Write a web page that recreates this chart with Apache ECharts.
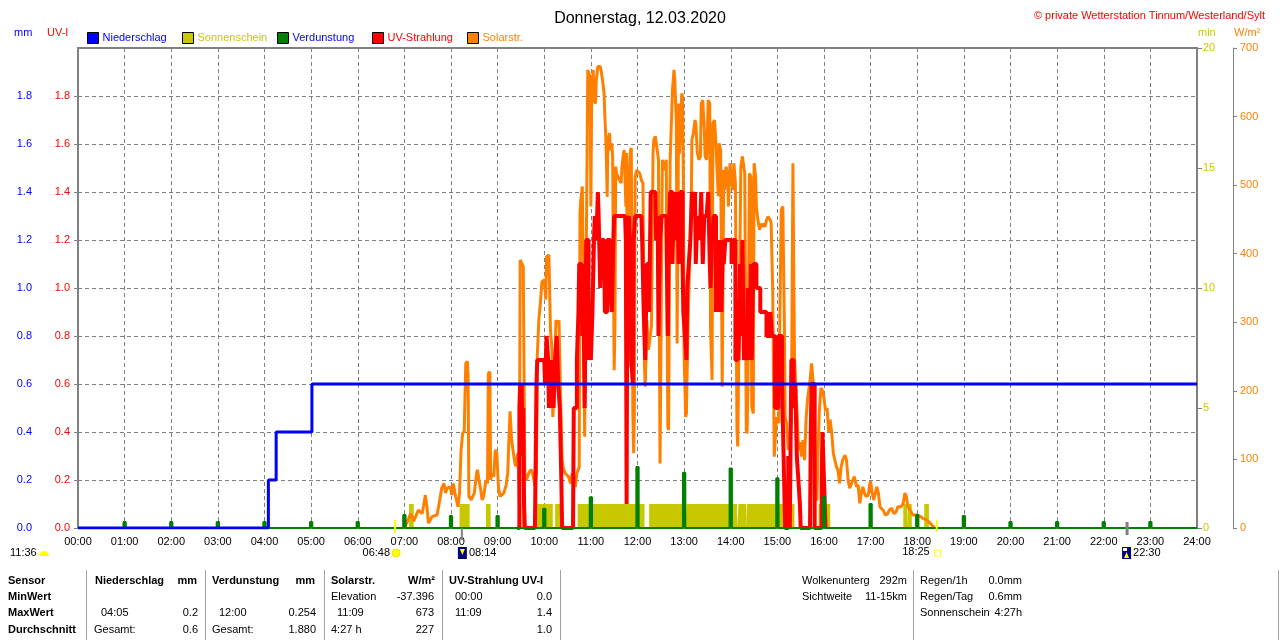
<!DOCTYPE html>
<html lang="de">
<head>
<meta charset="utf-8">
<title>Donnerstag, 12.03.2020</title>
<script src="https://cdn.jsdelivr.net/npm/echarts@6/dist/echarts.min.js"></script>
<style>
  html, body { margin: 0; padding: 0; background: #fff; }
  #chart { width: 1280px; height: 641px; }
</style>
</head>
<body>
<div id="chart"></div>
<script>
  var FONT = '"Liberation Sans", Arial, sans-serif';

  // x-Achse: Minuten seit Mitternacht
  var hourLabels = ['00:00','01:00','02:00','03:00','04:00','05:00','06:00','07:00','08:00','09:00',
    '10:00','11:00','12:00','13:00','14:00','15:00','16:00','17:00','18:00','19:00','20:00',
    '21:00','22:00','23:00','24:00'];

  // Niederschlag kumuliert [Minute, mm]
  var rainSteps = [[0, 0], [245, 0.2], [255, 0.4], [301, 0.6], [1440, 0.6]];

  // Verdunstung je Stunde (mm)
  var evapHours  = [1, 2, 3, 4, 5, 6, 7, 8, 9, 10, 11, 12, 13, 14, 15, 16, 17, 18, 19, 20, 21, 22, 23];
  var evapValues = [0.025, 0.025, 0.025, 0.025, 0.025, 0.025, 0.054, 0.05, 0.05, 0.08, 0.128, 0.254,
    0.23, 0.248, 0.207, 0.13, 0.10, 0.054, 0.05, 0.025, 0.025, 0.025, 0.025];

  // Sonnenschein-Zeitraeume (1 min pro Minute)
  var sunPeriods = [['07:06','07:12'], ['08:11','08:24'], ['08:45','08:51'], ['09:31','09:36'],
    ['09:50','10:11'], ['10:14','10:22'], ['10:43','12:09'], ['12:15','13:02'], ['13:03','14:08'],
    ['14:10','14:20'], ['14:21','15:22'], ['15:53','16:08'], ['17:42','17:47'], ['17:48','17:53'],
    ['18:09','18:15']];

  // Solarstrahlung [Minute, W/m2]
  var solar = [[420,0],[423,7],[428,21],[432,10],[438,26],[443,21],[447,48],[449,31],[451,7],[453,7],
    [456,17],[462,19],[464,31],[468,58],[471,65],[473,51],[475,58],[479,60],[481,48],[483,65],[486,46],
    [489,31],[491,51],[493,114],[495,138],[497,141],[499,240],[501,243],[502,223],[503,46],[506,41],
    [508,46],[510,51],[513,80],[514,85],[516,70],[518,58],[520,41],[522,46],[525,70],[527,65],[528,225],
    [530,228],[531,70],[533,80],[535,75],[537,114],[539,109],[541,60],[543,46],[548,51],[551,63],[553,80],
    [555,143],[556,170],[558,128],[561,104],[563,90],[566,109],[567,80],[568,41],[569,391],[571,386],
    [573,381],[575,80],[577,70],[580,80],[583,85],[585,80],[588,61],[590,80],[591,250],[593,303],[595,328],
    [597,359],[600,362],[602,333],[603,396],[606,398],[608,289],[610,260],[611,162],[613,202],[615,303],
    [618,298],[619,303],[621,191],[623,99],[625,85],[627,80],[631,75],[634,65],[636,80],[638,75],[640,60],
    [642,80],[645,89],[646,459],[647,478],[649,498],[651,496],[652,133],[654,133],[655,527],[656,668],
    [657,668],[659,658],[660,469],[661,624],[663,668],[664,624],[666,619],[667,653],[669,673],[672,673],
    [673,668],[675,653],[677,634],[678,600],[679,576],[680,537],[681,483],[682,566],[684,576],[685,551],
    [687,561],[688,541],[690,230],[691,298],[692,527],[693,517],[695,512],[697,507],[699,503],[700,527],
    [702,547],[703,551],[705,469],[706,547],[707,274],[708,235],[710,527],[711,551],[712,554],[714,167],
    [715,109],[716,167],[717,512],[719,522],[720,522],[723,517],[725,507],[727,503],[729,235],[730,206],
    [732,303],[734,260],[736,260],[738,294],[740,547],[741,566],[743,571],[745,571],[747,537],[749,94],
    [750,94],[752,537],[754,537],[755,522],[757,537],[759,148],[760,143],[762,537],[763,571],[765,639],
    [767,668],[768,653],[770,590],[771,269],[773,619],[774,546],[777,634],[778,629],[779,512],[780,250],
    [782,162],[783,167],[785,298],[787,386],[789,444],[790,566],[792,576],[794,595],[795,590],[797,547],
    [799,537],[801,542],[802,619],[804,624],[806,580],[807,542],[809,537],[811,624],[813,619],[814,289],
    [816,216],[817,590],[819,595],[820,580],[822,532],[824,484],[825,561],[827,551],[829,206],[831,522],
    [832,493],[834,527],[836,512],[837,469],[839,532],[841,508],[843,493],[844,532],[846,503],[848,143],
    [849,119],[851,119],[853,527],[855,542],[856,542],[858,517],[860,143],[861,138],[862,201],[864,517],
    [866,512],[867,177],[869,167],[870,532],[872,512],[873,469],[875,449],[877,435],[879,444],[880,439],
    [882,444],[884,439],[886,449],[888,454],[891,449],[892,444],[894,347],[896,104],[897,104],[899,162],
    [902,153],[903,289],[905,464],[907,469],[909,299],[910,162],[912,153],[914,114],[916,124],[918,153],
    [920,532],[921,532],[922,250],[924,201],[926,153],[927,114],[929,125],[931,104],[933,128],[935,99],
    [937,160],[939,190],[942,214],[944,240],[945,238],[947,200],[949,50],[951,40],[952,100],[954,170],
    [956,204],[958,200],[960,190],[962,170],[964,175],[966,140],[968,158],[970,138],[972,109],[974,99],
    [976,89],[978,84],[980,65],[982,89],[984,99],[987,106],[989,99],[991,70],[993,58],[995,60],[997,70],
    [999,75],[1002,60],[1004,63],[1006,36],[1008,51],[1010,60],[1012,51],[1014,46],[1017,48],[1019,65],
    [1020,68],[1022,51],[1024,41],[1026,51],[1028,60],[1030,51],[1032,31],[1036,26],[1039,19],[1042,21],
    [1044,26],[1047,29],[1050,21],[1053,24],[1055,31],[1059,31],[1062,36],[1064,51],[1066,46],[1068,31],
    [1070,33],[1072,24],[1074,19],[1079,19],[1081,19],[1084,17],[1087,14],[1092,12],[1096,8],[1099,4],
    [1103,0]];

  // UV-Index [Minute, UV-I]
  var uvIndex = [[565,0],[567,0],[568,0.5],[569,0.6],[570,0.3],[571,0.6],[572,0.3],[573,0.5],[574,0.1],
    [575,0],[588,0],[589,0.3],[590,0.6],[591,0.7],[600,0.7],[601,0.6],[602,0.7],[603,0.8],[605,0.7],
    [606,0.5],[607,0.6],[609,0.5],[610,0.7],[612,0.5],[614,0.7],[616,0.8],[618,0.6],[620,0.5],[622,0.2],
    [623,0],[637,0],[638,0.5],[640,0.5],[642,0.7],[644,0.9],[645,1.1],[648,1.1],[649,0.8],[650,1.1],
    [652,0.5],[654,1.2],[656,1.2],[657,0.7],[658,0.8],[660,0.7],[662,0.9],[664,1.2],[665,1.3],[667,1.2],
    [669,1.4],[670,1.3],[672,1.0],[674,1.2],[677,1.2],[678,0.9],[680,0.9],[681,1.2],[683,1.2],[685,1.0],
    [687,0.9],[689,1.2],[690,1.3],[704,1.3],[705,1.2],[706,0.1],[707,1.2],[709,1.3],[711,1.1],[712,0.7],
    [714,0.6],[715,1.2],[717,1.3],[725,1.3],[726,1.2],[728,0.9],[730,0.7],[732,1.1],[735,0.9],[737,1.4],
    [743,1.4],[744,1.2],[746,1.3],[747,0.8],[749,1.2],[751,1.3],[757,1.3],[759,0.8],[760,1.2],[762,1.4],
    [765,1.1],[767,1.4],[769,1.2],[771,1.4],[773,1.1],[775,1.4],[777,1.4],[778,1.1],[779,0.9],[781,0.8],
    [783,0.7],[784,1.0],[786,1.1],[788,1.2],[790,1.4],[792,1.3],[794,1.4],[795,1.1],[797,1.3],[799,1.2],
    [801,1.3],[802,1.4],[804,1.1],[806,1.3],[809,1.3],[811,1.4],[813,1.1],[814,1.0],[816,1.2],[818,1.3],
    [819,1.3],[821,0.9],[823,1.1],[825,0.9],[826,1.2],[828,0.9],[830,1.2],[831,1.1],[833,1.2],[837,1.2],
    [839,1.2],[841,1.1],[843,1.2],[846,0.7],[849,0.8],[850,0.7],[852,1.1],[854,0.8],[855,1.2],[857,0.7],
    [859,0.8],[861,0.7],[862,1.0],[864,0.7],[866,1.1],[867,0.7],[869,1.1],[871,1.1],[873,1.0],[878,0.9],
    [886,0.8],[888,0.8],[891,0.9],[893,0.8],[895,0.8],[897,0.5],[899,0.5],[901,0.8],[903,0.8],[906,0.6],
    [908,0.3],[910,0],[912,0],[914,0.3],[916,0],[918,0.7],[920,0.7],[921,0.5],[923,0.6],[925,0.3],
    [927,0.2],[929,0.1],[930,0],[942,0],[943,0.4],[944,0.6],[946,0.6],[948,0],[957,0.2],[958,0.4],
    [960,0.2],[962,0]];

  // Sonne / Mond
  var sunrise = '06:48', sunset = '18:25', moonrise = '08:14', moonset = '22:30', moonTime = '11:36';

  function toMin(s) { var p = s.split(':'); return (+p[0]) * 60 + (+p[1]); }

  var sunData = [];
  sunPeriods.forEach(function (p) {
    var a = toMin(p[0]), b = toMin(p[1]);
    sunData.push([a, 0], [a, 1], [b, 1], [b, 0]);
  });

  var evapData = [[0, 0]];
  evapHours.forEach(function (h, i) {
    var t = h * 60;
    evapData.push([t - 1.5, 0], [t - 1.5, evapValues[i]], [t + 1.5, evapValues[i]], [t + 1.5, 0]);
  });
  evapData.push([1440, 0]);

  var legendItems = [
    {name: 'Niederschlag', x: 87,  color: '#0000ff'},
    {name: 'Sonnenschein', x: 182, color: '#c8c800'},
    {name: 'Verdunstung',  x: 277, color: '#0000ff'},
    {name: 'UV-Strahlung', x: 372, color: '#ff0000'},
    {name: 'Solarstr.',    x: 467, color: '#ff8000'}
  ];

  var chart = echarts.init(document.getElementById('chart'), null, {renderer: 'canvas'});

  var option = {
    animation: false,
    backgroundColor: '#fff',
    textStyle: {fontFamily: FONT},
    title: [
      {text: 'Donnerstag, 12.03.2020', left: 'center', top: 6,
        textStyle: {fontSize: 16, fontWeight: 'normal', color: '#000', fontFamily: FONT}},
      {text: '\u00a9 private Wetterstation Tinnum/Westerland/Sylt', right: 10, top: 5,
        textStyle: {fontSize: 11, fontWeight: 'normal', color: '#ff0000', fontFamily: FONT}}
    ],
    legend: legendItems.map(function (it) {
      return {
        data: [it.name], left: it.x, top: 32, padding: 0, itemWidth: 11, itemHeight: 11,
        icon: 'rect', selectedMode: false,
        itemStyle: {borderColor: '#000', borderWidth: 1},
        textStyle: {color: it.color, fontSize: 11, fontFamily: FONT, padding: [0, 0, 0, -1]}
      };
    }),
    grid: {left: 78, right: 83, top: 48, bottom: 113, show: true, borderColor: '#808080', borderWidth: 2},
    xAxis: {
      type: 'value', min: 0, max: 1440, interval: 60,
      axisLine: {show: false}, axisTick: {show: false},
      axisLabel: {color: '#000', fontSize: 11, margin: 8, fontFamily: FONT,
        formatter: function (v) { return hourLabels[Math.round(v / 60)]; }},
      splitLine: {show: true, lineStyle: {color: '#808080', type: [4, 3], width: 1}}
    },
    yAxis: [
      { // mm
        type: 'value', position: 'left', offset: 37, min: 0, max: 2, interval: 0.2,
        axisLine: {show: true, lineStyle: {color: '#808080'}},
        axisTick: {show: true, length: 4, lineStyle: {color: '#808080'}},
        axisLabel: {color: '#0000ff', fontSize: 11, margin: 9, showMaxLabel: false, fontFamily: FONT,
          formatter: function (v) { return v.toFixed(1); }},
        splitLine: {show: false}
      },
      { // UV-I
        type: 'value', position: 'left', min: 0, max: 2, interval: 0.2,
        axisLine: {show: true, lineStyle: {color: '#808080', width: 2}},
        axisTick: {show: true, length: 4, lineStyle: {color: '#808080'}},
        axisLabel: {color: '#ff0000', fontSize: 11, margin: 8, showMaxLabel: false, fontFamily: FONT,
          formatter: function (v) { return v.toFixed(1); }},
        splitLine: {show: true, lineStyle: {color: '#808080', type: [4, 3], width: 1}}
      },
      { // min
        type: 'value', position: 'right', min: 0, max: 20, interval: 5,
        axisLine: {show: true, lineStyle: {color: '#808080', width: 2}},
        axisTick: {show: true, length: 5, lineStyle: {color: '#808080'}},
        axisLabel: {color: '#c8c800', fontSize: 11, margin: 6, fontFamily: FONT},
        splitLine: {show: false}
      },
      { // W/m2
        type: 'value', position: 'right', offset: 36, min: 0, max: 700, interval: 100,
        axisLine: {show: true, lineStyle: {color: '#808080'}},
        axisTick: {show: true, length: 4, lineStyle: {color: '#808080'}},
        axisLabel: {color: '#ff8000', fontSize: 11, margin: 7, fontFamily: FONT},
        splitLine: {show: false}
      }
    ],
    series: [
      {name: 'Sonnenschein', type: 'line', yAxisIndex: 2, data: sunData, symbol: 'none', z: 1,
        color: '#c8c800', lineStyle: {width: 0}, areaStyle: {color: '#c8c800', opacity: 1}},
      {name: 'Solarstr.', type: 'line', yAxisIndex: 3, data: solar, symbol: 'none', z: 2,
        color: '#ff8000', lineStyle: {width: 3, color: '#ff8000'}},
      {name: 'UV-Strahlung', type: 'line', yAxisIndex: 1, data: uvIndex, symbol: 'none', step: 'end', z: 3,
        color: '#ff0000', lineStyle: {width: 4, color: '#ff0000'}},
      {name: 'Verdunstung', type: 'line', yAxisIndex: 0, data: evapData, symbol: 'none', z: 4,
        color: '#008000', lineStyle: {width: 2, color: '#008000'}, areaStyle: {color: '#008000', opacity: 1}},
      {name: 'Niederschlag', type: 'line', yAxisIndex: 0, data: rainSteps, symbol: 'none', step: 'end', z: 5,
        color: '#0000ff', lineStyle: {width: 3, color: '#0000ff'}}
    ]
  };

  chart.setOption(option);

  // Beschriftungen ausserhalb des Diagramms
  function px(t) { return chart.convertToPixel({xAxisIndex: 0}, toMin(t)); }
  var base = chart.convertToPixel({yAxisIndex: 1}, 0);
  function txt(s, x, y, color, align, bold) {
    return {type: 'text', x: x, y: y, z: 100, silent: true,
      style: {text: s, fill: color || '#000', align: align || 'left', verticalAlign: 'middle',
        font: (bold ? 'bold ' : '') + '11px ' + FONT}};
  }
  function vline(x, y1, y2, color, w) {
    return {type: 'line', z: 100, silent: true, shape: {x1: x, y1: y1, x2: x, y2: y2},
      style: {stroke: color, lineWidth: w}};
  }

  var g = [];
  // Einheiten
  g.push(txt('mm', 14, 33, '#0000ff'), txt('UV-I', 47, 33, '#ff0000'),
         txt('min', 1198, 33, '#c8c800'), txt('W/m\u00b2', 1234, 33, '#ff8000'));

  // Sonne und Mond
  var xr = px(sunrise), xs = px(sunset), xmr = px(moonrise), xms = px(moonset);
  var ly = base + 25;
  g.push(vline(xr, base - 8, base + 5, '#ffff00', 2));
  g.push(txt(sunrise, xr - 5, ly, '#000', 'right'));
  g.push({type: 'circle', z: 100, shape: {cx: xr + 1, cy: ly, r: 4}, style: {fill: '#ffff00', stroke: '#e8e800'}});
  g.push(vline(xs, base - 8, base + 4, '#ffff00', 2));
  g.push(txt(sunset, xs - 7, ly - 1, '#000', 'right'));
  g.push({type: 'rect', z: 100, shape: {x: xs - 2, y: ly - 3, width: 6, height: 6},
    style: {fill: '#fff', stroke: '#ffff00', lineWidth: 1}});
  g.push(vline(xmr, base, base + 12, '#808080', 2));
  g.push({type: 'rect', z: 100, shape: {x: xmr - 4, y: ly - 6, width: 9, height: 12}, style: {fill: '#000080'}});
  g.push({type: 'polygon', z: 101, shape: {points: [[xmr - 2, ly - 4], [xmr + 3, ly - 4], [xmr + 0.5, ly + 2]]},
    style: {fill: '#ffff00'}});
  g.push(txt(moonrise, xmr + 7, ly, '#000'));
  g.push(vline(xms, base - 6, base + 7, '#808080', 3));
  g.push({type: 'rect', z: 100, shape: {x: xms - 5, y: ly - 6, width: 9, height: 12}, style: {fill: '#000080'}});
  g.push({type: 'rect', z: 101, shape: {x: xms - 4, y: ly - 5, width: 4, height: 3}, style: {fill: '#ffffff'}});
  g.push({type: 'polygon', z: 101, shape: {points: [[xms - 3, ly + 5], [xms + 2, ly + 5], [xms - 0.5, ly - 1]]},
    style: {fill: '#ffff00'}});
  g.push(txt(moonset, xms + 6, ly, '#000'));
  g.push(txt(moonTime, 10, ly, '#000'));
  g.push({type: 'sector', z: 100, shape: {cx: 44, cy: ly + 3, r: 5, r0: 0, startAngle: Math.PI, endAngle: 2 * Math.PI},
    style: {fill: '#ffff00'}});

  // Tabelle
  var rowY = [581, 597, 613, 630];
  var table = [
    ['Sensor', 8, 0, 'left', 1], ['MinWert', 8, 1, 'left', 1], ['MaxWert', 8, 2, 'left', 1],
    ['Durchschnitt', 8, 3, 'left', 1],
    ['Niederschlag', 95, 0, 'left', 1], ['mm', 197, 0, 'right', 1],
    ['04:05', 101, 2, 'left'], ['0.2', 198, 2, 'right'], ['Gesamt:', 94, 3, 'left'], ['0.6', 198, 3, 'right'],
    ['Verdunstung', 212, 0, 'left', 1], ['mm', 315, 0, 'right', 1],
    ['12:00', 219, 2, 'left'], ['0.254', 316, 2, 'right'], ['Gesamt:', 212, 3, 'left'], ['1.880', 316, 3, 'right'],
    ['Solarstr.', 331, 0, 'left', 1], ['W/m\u00b2', 435, 0, 'right', 1],
    ['Elevation', 331, 1, 'left'], ['-37.396', 434, 1, 'right'],
    ['11:09', 337, 2, 'left'], ['673', 434, 2, 'right'], ['4:27 h', 331, 3, 'left'], ['227', 434, 3, 'right'],
    ['UV-Strahlung UV-I', 449, 0, 'left', 1],
    ['00:00', 455, 1, 'left'], ['0.0', 552, 1, 'right'], ['11:09', 455, 2, 'left'], ['1.4', 552, 2, 'right'],
    ['1.0', 552, 3, 'right'],
    ['Wolkenunterg', 802, 0, 'left'], ['292m', 907, 0, 'right'],
    ['Sichtweite', 802, 1, 'left'], ['11-15km', 907, 1, 'right'],
    ['Regen/1h', 920, 0, 'left'], ['0.0mm', 1022, 0, 'right'],
    ['Regen/Tag', 920, 1, 'left'], ['0.6mm', 1022, 1, 'right'],
    ['Sonnenschein', 920, 2, 'left'], ['4:27h', 1022, 2, 'right']
  ];
  table.forEach(function (c) { g.push(txt(c[0], c[1], rowY[c[2]], '#000', c[3], c[4])); });
  [86, 205, 324, 442, 560, 913, 1278].forEach(function (x) {
    g.push(vline(x + 0.5, 570, 640, '#a0a0a0', 1));
  });

  chart.setOption({graphic: g});
</script>
</body>
</html>
